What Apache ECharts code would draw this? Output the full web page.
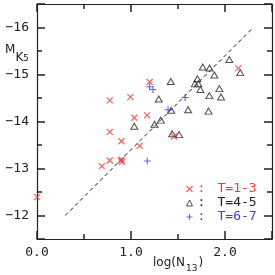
<!DOCTYPE html>
<html><head><meta charset="utf-8">
<script src="https://cdn.jsdelivr.net/npm/echarts@6/dist/echarts.min.js"></script>
<style>html,body{margin:0;padding:0;background:#fff}#c{width:275px;height:275px}</style>
</head><body><div id="c"></div>
<script>
// T=1-3 (red crosses)
var t13X = [0.774, 0.993, 1.198, 1.035, 1.171, 0.774, 0.898, 1.092, 1.457, 0.774, 0.689, 0.890, 0.905, 0.900, 0.0, 2.141];
var t13Y = [-14.45, -14.52, -14.84, -14.08, -14.13, -13.78, -13.58, -13.48, -13.68, -13.17, -13.05, -13.17, -13.14, -13.19, -12.39, -15.13];
// T=4-5 (open triangles)
var t45X = [2.046, 1.763, 1.836, 2.162, 1.887, 1.423, 1.706, 1.680, 1.717, 1.738, 1.940, 1.834, 1.958, 1.295, 1.428, 1.608, 1.825, 1.251, 1.317, 1.035, 1.438, 1.512];
var t45Y = [-15.32, -15.16, -15.14, -15.04, -14.99, -14.85, -14.91, -14.80, -14.80, -14.68, -14.70, -14.55, -14.52, -14.48, -14.24, -14.25, -14.22, -13.94, -14.03, -13.90, -13.74, -13.72];
// T=6-7 (blue plus)
var t67X = [1.198, 1.233, 1.576, 1.394, 1.173];
var t67Y = [-14.74, -14.68, -14.51, -14.25, -13.16];
// dashed relation
var fitX = [0.3, 2.3];
var fitY = [-12, -16];
// tick labels
var xTickLabels = {0: '0.0', 1: '1.0', 2: '2.0'};
var yTickLabels = {'-16': '\u221216', '-15': '\u221215', '-14': '\u221214', '-13': '\u221213', '-12': '\u221212'};
var seriesNames = ['T=1-3', 'T=4-5', 'T=6-7'];

function zip(a, b) { return a.map(function (v, i) { return [v, b[i]]; }); }

var RED = '#ff3535', BLUE = '#3c3cff', BLK = '#222';
var MONO = 'DejaVu Sans Mono', SANS = 'DejaVu Sans';
var crossPath = 'path://M0,0L10,10M10,0L0,10';
var plusPath = 'path://M5,0L5,10M0,5L10,5';

function xAx(pos, labels) {
  return {
    type: 'value', position: pos, min: 0, max: 2.5, interval: 1,
    axisLine: { show: true, onZero: false, lineStyle: { color: BLK, width: 1.2 } },
    axisTick: { show: true, inside: true, length: 8, lineStyle: { color: BLK, width: 1.5 } },
    minorTick: { show: true, splitNumber: 2, length: 5, lineStyle: { color: BLK, width: 1.5 } },
    splitLine: { show: false }, minorSplitLine: { show: false },
    axisLabel: { show: labels, margin: 7, fontFamily: MONO, fontSize: 13, color: BLK,
      formatter: function (v) { return xTickLabels[v] !== undefined ? xTickLabels[v] : ''; } }
  };
}
function yAx(pos, labels) {
  return {
    type: 'value', position: pos, min: -16.5, max: -11.5, inverse: true, splitNumber: 5,
    axisLine: { show: true, onZero: false, lineStyle: { color: BLK, width: 1.2 } },
    axisTick: { show: true, inside: true, length: 8, lineStyle: { color: BLK, width: 1.5 } },
    minorTick: { show: true, splitNumber: 2, length: 5, lineStyle: { color: BLK, width: 1.5 } },
    splitLine: { show: false }, minorSplitLine: { show: false },
    axisLabel: { show: labels, margin: 8, fontFamily: MONO, fontSize: 13, color: BLK,
      formatter: function (v) { var k = String(v); return yTickLabels[k] !== undefined ? yTickLabels[k] : ''; } }
  };
}

var chart = echarts.init(document.getElementById('c'), null, { renderer: 'canvas' });
chart.setOption({
  animation: false,
  backgroundColor: '#fff',
  grid: { left: 37, top: 4, width: 235, height: 235 },
  xAxis: [xAx('bottom', true), xAx('top', false)],
  yAxis: [yAx('left', true), yAx('right', false)],
  legend: {
    orient: 'vertical', left: 179, top: 177, itemWidth: 6, itemHeight: 6, itemGap: 0,
    data: [
      { name: seriesNames[0], textStyle: { color: RED }, itemStyle: { color: 'none', borderColor: RED, borderWidth: 1.1 } },
      { name: seriesNames[1], textStyle: { color: BLK }, itemStyle: { color: 'none', borderColor: BLK, borderWidth: 1 } },
      { name: seriesNames[2], textStyle: { color: BLUE }, itemStyle: { color: 'none', borderColor: BLUE, borderWidth: 1 } }
    ],
    formatter: function (n) { return '{c|:}{t|' + n + '}'; },
    textStyle: { fontFamily: MONO, fontSize: 13, lineHeight: 14,
      rich: { c: { width: 20, fontFamily: MONO, fontSize: 13 }, t: { fontFamily: MONO, fontSize: 13 } } },
    selectedMode: false
  },
  graphic: [
    { type: 'text', left: 5, top: 44, style: { text: 'M', font: '12px ' + SANS, fill: BLK } },
    { type: 'text', left: 15.5, top: 51.5, style: { text: 'K', font: '12px ' + SANS, fill: BLK } },
    { type: 'text', left: 23, top: 54, style: { text: '5', font: '9px ' + SANS, fill: BLK } },
    { type: 'text', left: 153, top: 257, style: { text: 'log(N', font: '12px ' + SANS, fill: BLK } },
    { type: 'text', left: 186, top: 264.5, style: { text: '13', font: '9px ' + SANS, fill: BLK } },
    { type: 'text', left: 198.5, top: 257, style: { text: ')', font: '12px ' + SANS, fill: BLK } }
  ],
  series: [
    { type: 'line', data: zip(fitX, fitY), showSymbol: false, symbol: 'none', silent: true, z: 1,
      lineStyle: { color: BLK, width: 1, type: [4, 3] } },
    { name: seriesNames[0], type: 'scatter', data: zip(t13X, t13Y), symbol: crossPath, symbolSize: 6, z: 3,
      itemStyle: { color: 'none', borderColor: RED, borderWidth: 1.2 } },
    { name: seriesNames[1], type: 'scatter', data: zip(t45X, t45Y), symbol: 'triangle', symbolSize: [7, 6], z: 2,
      itemStyle: { color: 'none', borderColor: BLK, borderWidth: 1 } },
    { name: seriesNames[2], type: 'scatter', data: zip(t67X, t67Y), symbol: plusPath, symbolSize: 7, z: 3,
      itemStyle: { color: 'none', borderColor: BLUE, borderWidth: 1.1 } }
  ]
});
</script></body></html>
